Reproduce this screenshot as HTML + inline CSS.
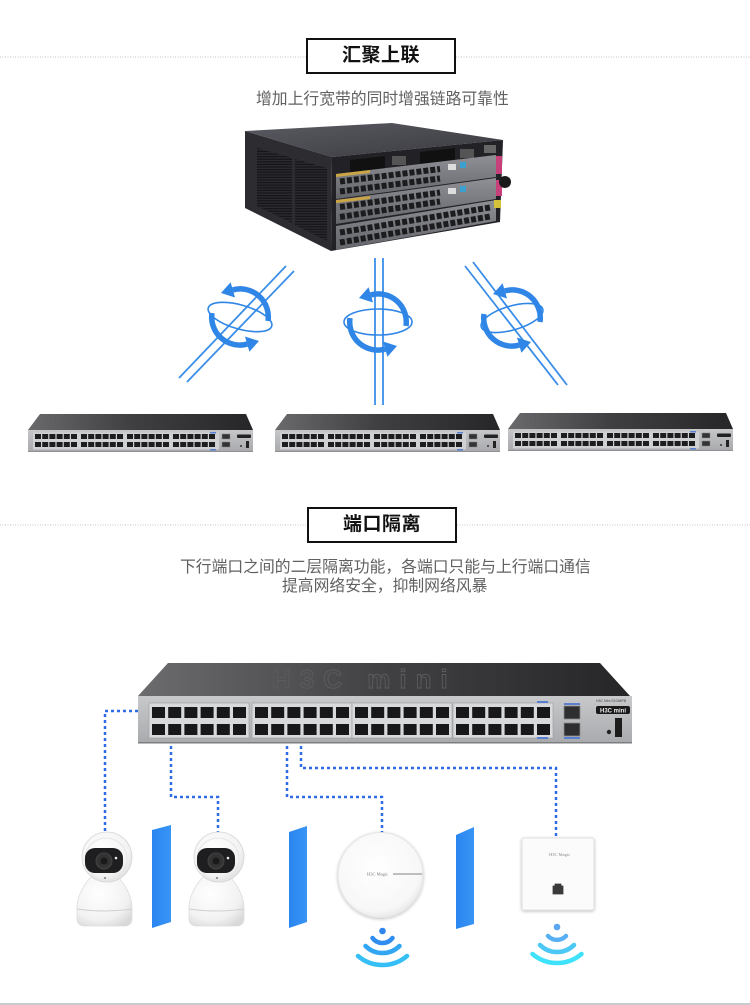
<!DOCTYPE html>
<html><head><meta charset="utf-8">
<style>
html,body{margin:0;padding:0;background:#fff;}
#wrap{position:relative;width:750px;height:1005px;overflow:hidden;background:#fff;font-family:"Liberation Sans","Noto Sans CJK SC",sans-serif;}
svg{position:absolute;left:0;top:0;}
.box{position:absolute;box-sizing:border-box;width:150px;height:36px;border:2px solid #111;background:#fff;text-align:center;font-size:19px;font-weight:700;color:#111;line-height:31px;letter-spacing:0.5px;}
.sub{position:absolute;white-space:nowrap;font-size:15.8px;color:#606060;line-height:18px;}
</style></head><body>
<div id="wrap">
<svg width="750" height="1005" viewBox="0 0 750 1005" xmlns="http://www.w3.org/2000/svg">
<defs>
  <linearGradient id="swTop" x1="0" y1="0" x2="1" y2="0">
    <stop offset="0" stop-color="#6a6a6d"/><stop offset="0.45" stop-color="#404043"/><stop offset="1" stop-color="#262628"/>
  </linearGradient>
  <linearGradient id="swFront" x1="0" y1="0" x2="0" y2="1">
    <stop offset="0" stop-color="#c6c7c9"/><stop offset="1" stop-color="#a8a9ac"/>
  </linearGradient>
  <linearGradient id="chTop" x1="0" y1="0" x2="1" y2="1">
    <stop offset="0" stop-color="#5a5a62"/><stop offset="1" stop-color="#3a3a40"/>
  </linearGradient>
  <linearGradient id="card" x1="0" y1="0" x2="0" y2="1">
    <stop offset="0" stop-color="#8e9096"/><stop offset="1" stop-color="#63656b"/>
  </linearGradient>
  <pattern id="vent" width="4" height="2.6" patternUnits="userSpaceOnUse">
    <rect width="4" height="2.6" fill="#2a2a2f"/><rect width="4" height="1.2" fill="#151518"/>
  </pattern>
  <radialGradient id="camG" cx="0.4" cy="0.35" r="0.75">
    <stop offset="0" stop-color="#ffffff"/><stop offset="0.7" stop-color="#f2f2f2"/><stop offset="1" stop-color="#d9d9d9"/>
  </radialGradient>
  <radialGradient id="apG" cx="0.45" cy="0.4" r="0.65">
    <stop offset="0" stop-color="#ffffff"/><stop offset="0.8" stop-color="#f7f7f7"/><stop offset="1" stop-color="#e2e2e2"/>
  </radialGradient>
  <linearGradient id="panel" x1="0" y1="0" x2="1" y2="0">
    <stop offset="0" stop-color="#2a86f0"/><stop offset="1" stop-color="#3894f4"/>
  </linearGradient>
  <filter id="sh" x="-20%" y="-20%" width="140%" height="140%">
    <feGaussianBlur in="SourceAlpha" stdDeviation="1.5"/>
    <feOffset dx="0" dy="1" result="b"/>
    <feComponentTransfer><feFuncA type="linear" slope="0.25"/></feComponentTransfer>
    <feMerge><feMergeNode/><feMergeNode in="SourceGraphic"/></feMerge>
  </filter>

  <!-- small switch -->
  <g id="sw">
    <polygon points="12,0 218,0 225,16 0,16" fill="url(#swTop)"/>
    <rect x="0" y="16" width="225" height="22" fill="url(#swFront)"/>
    <rect x="0" y="37.2" width="225" height="0.8" fill="#8a8a8d"/>
    <rect x="5" y="18.5" width="186" height="17" fill="#cfd0d2"/>
    <g stroke="#1d1d1f" stroke-width="5" stroke-dasharray="6 1.2">
      <line x1="7" y1="22.5" x2="49" y2="22.5"/><line x1="7" y1="30.5" x2="49" y2="30.5"/>
      <line x1="53" y1="22.5" x2="95" y2="22.5"/><line x1="53" y1="30.5" x2="95" y2="30.5"/>
      <line x1="99" y1="22.5" x2="141" y2="22.5"/><line x1="99" y1="30.5" x2="141" y2="30.5"/>
      <line x1="145" y1="22.5" x2="187" y2="22.5"/><line x1="145" y1="30.5" x2="187" y2="30.5"/>
    </g>
    <rect x="182" y="18" width="6" height="1.5" fill="#5b7fd0"/>
    <rect x="182" y="35" width="6" height="1.5" fill="#5b7fd0"/>
    <rect x="194" y="20" width="8" height="5" fill="#333" stroke="#888" stroke-width="0.5"/>
    <rect x="194" y="28" width="8" height="5" fill="#333" stroke="#888" stroke-width="0.5"/>
    <rect x="209" y="20.5" width="14" height="3.5" rx="1" fill="#222"/>
    <rect x="218" y="27" width="3" height="7" fill="#222"/>
    <circle cx="213" cy="32" r="1" fill="#333"/>
  </g>

  <!-- rotation icon -->
  <g id="rotArrows" fill="#2f86e6">
    <path d="M28 4 A28 28 0 0 0 -7.25 -27.05" fill="none" stroke="#2f86e6" stroke-width="5.5"/>
    <polygon points="-5,-19.5 -9.4,-34.8 -19,-24"/>
    <path d="M-28 -4 A28 28 0 0 0 7.25 27.05" fill="none" stroke="#2f86e6" stroke-width="5.5"/>
    <polygon points="9.4,34.8 5,19.5 19,24"/>
  </g>
</defs>

<!-- section header dotted lines -->
<g stroke="#c4c4c4" stroke-width="1" stroke-dasharray="1 1.5">
  <line x1="0" y1="57" x2="306" y2="57"/>
  <line x1="456" y1="57" x2="750" y2="57"/>
  <line x1="0" y1="525" x2="307" y2="525"/>
  <line x1="457" y1="525" x2="750" y2="525"/>
</g>

<!-- chassis -->
<g>
  <polygon points="245,131 392,123 503,140 332,157" fill="url(#chTop)"/>
  <polygon points="245,131 332,157 331,251 245,208" fill="#2c2c31"/>
  <polygon points="257,148 292,158 292,223 257,206" fill="url(#vent)"/>
  <polygon points="295,159 327,168 327,241 295,225" fill="url(#vent)"/>
  <polygon points="332,157 503,140 500,222 331,251" fill="#222226"/>
  <!-- psu -->
  <polygon points="350,160 385,156 385,170 350,174" fill="#111"/>
  <polygon points="420,152 455,148 455,162 420,166" fill="#111"/>
  <rect x="392" y="156" width="14" height="9" fill="#555"/>
  <rect x="460" y="149" width="14" height="9" fill="#555"/>
  <rect x="484" y="145" width="12" height="8" fill="#666"/>
  <!-- cards -->
  <polygon points="336,174 496,155 496,177 336,199" fill="url(#card)"/>
  <polygon points="336,200 496,178 496,199 336,224" fill="url(#card)"/>
  <polygon points="336,226 496,200 496,221 336,250" fill="url(#card)"/>
  <polygon points="336,174 370,170 370,173 336,177" fill="#c9a545"/>
  <polygon points="336,200 370,196 370,199 336,203" fill="#c9a545"/>
  <g stroke="#1c1c1e" stroke-width="6" stroke-dasharray="5 2">
    <line x1="340" y1="181.5" x2="440" y2="169"/>
    <line x1="340" y1="191.5" x2="440" y2="178.5"/>
    <line x1="340" y1="207" x2="440" y2="192.5"/>
    <line x1="340" y1="217" x2="440" y2="201.5"/>
    <line x1="340" y1="232.5" x2="490" y2="207.5"/>
    <line x1="340" y1="242.5" x2="490" y2="216.5"/>
  </g>
  <rect x="448" y="164" width="8" height="6" fill="#ddd"/>
  <rect x="460" y="162" width="6" height="6" fill="#3aa0d0"/>
  <rect x="448" y="188" width="8" height="6" fill="#ddd"/>
  <rect x="460" y="186" width="6" height="6" fill="#3aa0d0"/>
  <rect x="496" y="156" width="6" height="18" fill="#c8407a"/>
  <rect x="496" y="180" width="6" height="16" fill="#c8407a"/>
  <rect x="494" y="200" width="7" height="8" fill="#d4c23a"/>
  <circle cx="505" cy="182" r="6" fill="#1a1a1a"/>
</g>

<!-- rotation icons and lines -->
<g stroke="#3b8ee8" stroke-width="1.8" fill="none">
  <line x1="179" y1="378" x2="286" y2="266"/>
  <line x1="187" y1="382" x2="294" y2="271"/>
  <line x1="375" y1="258" x2="375" y2="405"/>
  <line x1="383" y1="258" x2="383" y2="405"/>
  <line x1="465" y1="266" x2="558" y2="385"/>
  <line x1="473" y1="262" x2="567" y2="385"/>
</g>
<g transform="translate(240,317)">
  <ellipse cx="0" cy="0" rx="33" ry="12" fill="none" stroke="#2f86e6" stroke-width="1.6" transform="rotate(16)"/>
  <use href="#rotArrows"/>
</g>
<g transform="translate(378,322)">
  <ellipse cx="0" cy="0" rx="34" ry="13" fill="none" stroke="#2f86e6" stroke-width="1.6"/>
  <use href="#rotArrows"/>
</g>
<g transform="translate(512,318)">
  <ellipse cx="0" cy="0" rx="32" ry="12" fill="none" stroke="#2f86e6" stroke-width="1.6" transform="rotate(-16)"/>
  <use href="#rotArrows"/>
</g>

<!-- small switches -->
<use href="#sw" transform="translate(28,414)"/>
<use href="#sw" transform="translate(275,414)"/>
<use href="#sw" transform="translate(508,413)"/>

<!-- big switch -->
<g>
  <defs>
    <linearGradient id="bTop" x1="0" y1="0" x2="1" y2="0">
      <stop offset="0" stop-color="#6c6c6f"/><stop offset="0.5" stop-color="#414144"/><stop offset="1" stop-color="#262628"/>
    </linearGradient>
    <linearGradient id="bFront" x1="0" y1="0" x2="0" y2="1">
      <stop offset="0" stop-color="#c8c9cb"/><stop offset="1" stop-color="#a9aaad"/>
    </linearGradient>
  </defs>
  <polygon points="168,663 600,663 630,696 138,696" fill="url(#bTop)"/>
  <text x="272" y="688" font-family="Liberation Sans, sans-serif" font-size="26" font-weight="700" fill="none" stroke="#5c5c60" stroke-width="0.9" letter-spacing="9">H3C mini</text>
  <rect x="138" y="696" width="494" height="47" fill="url(#bFront)"/>
  <rect x="138" y="742" width="494" height="1.5" fill="#7d7d80"/>
  <g fill="#d8d9db" stroke="#9a9b9e" stroke-width="0.6">
    <rect x="149" y="703" width="100" height="35"/>
    <rect x="252" y="703" width="100" height="35"/>
    <rect x="352" y="703" width="100" height="35"/>
    <rect x="453" y="703" width="100" height="35"/>
  </g>
  <g stroke="#18181a" stroke-width="11" stroke-dasharray="13 3.2">
    <line x1="152" y1="712.5" x2="246" y2="712.5"/><line x1="152" y1="729.5" x2="246" y2="729.5"/>
    <line x1="255" y1="712.5" x2="349" y2="712.5"/><line x1="255" y1="729.5" x2="349" y2="729.5"/>
    <line x1="355" y1="712.5" x2="449" y2="712.5"/><line x1="355" y1="729.5" x2="449" y2="729.5"/>
    <line x1="456" y1="712.5" x2="550" y2="712.5"/><line x1="456" y1="729.5" x2="550" y2="729.5"/>
  </g>
  <rect x="537" y="701" width="11" height="2" fill="#5b7fd0"/>
  <rect x="537" y="737" width="11" height="2" fill="#5b7fd0"/>
  <rect x="564" y="703" width="16" height="2" fill="#5b7fd0"/>
  <rect x="564" y="737" width="16" height="2" fill="#5b7fd0"/>
  <rect x="564" y="706" width="16" height="13" fill="#2e2e30" stroke="#8a8a8d" stroke-width="0.8"/>
  <rect x="564" y="723" width="16" height="13" fill="#2e2e30" stroke="#8a8a8d" stroke-width="0.8"/>
  <text x="596" y="702" font-family="Liberation Sans, sans-serif" font-size="3.5" fill="#444">H3C Mini S1048PB</text>
  <rect x="596" y="706" width="34" height="8" rx="2" fill="#1a1a1a"/>
  <text x="600" y="712.3" font-family="Liberation Sans, sans-serif" font-size="6" font-weight="700" fill="#eee">H3C mini</text>
  <rect x="615" y="718" width="7" height="19" fill="#1c1c1c"/>
  <circle cx="609" cy="732" r="2.2" fill="#222"/>
</g>

<!-- dotted connectors -->
<g stroke="#2e6be6" stroke-width="2.5" stroke-dasharray="3 3" fill="none">
  <polyline points="138,711 105,711 105,832"/>
  <polyline points="171,746 171,797 218,797 218,832"/>
  <polyline points="287,746 287,797 382,797 382,833"/>
  <polyline points="301,746 301,768 556,768 556,838"/>
</g>

<!-- cameras -->
<g id="cam1">
  <path d="M92,876 C84,884 77,896 77,908 L77,918 Q77,926 85,926 L124,926 Q132,926 132,918 L132,908 C132,896 125,884 117,876 Z" fill="url(#camG)" stroke="#dcdcdc" stroke-width="0.8"/>
  <path d="M77,909 Q104.5,913 132,909" fill="none" stroke="#d0d0d0" stroke-width="1"/>
  <circle cx="107" cy="857" r="25" fill="url(#camG)" stroke="#d6d6d6" stroke-width="0.8"/>
  <circle cx="106" cy="859" r="21" fill="none" stroke="#e6e6e6" stroke-width="1"/>
  <rect x="85" y="848" width="38" height="25" rx="10" fill="#1e1e20"/>
  <circle cx="104" cy="861" r="8" fill="#333" stroke="#444" stroke-width="1"/>
  <circle cx="104" cy="861" r="3.5" fill="#1a1a1a"/>
  <circle cx="116" cy="858" r="1.3" fill="#eee"/>
  <circle cx="105" cy="878" r="1" fill="#777"/>
</g>
<use href="#cam1" transform="translate(112,0)"/>

<!-- blue panels -->
<polygon points="152,830 171,825 171,922 152,928" fill="url(#panel)"/>
<polygon points="289,832 307,826 307,922 289,928" fill="url(#panel)"/>
<polygon points="456,835 474,827 474,924 456,929" fill="url(#panel)"/>

<!-- round AP -->
<circle cx="380.5" cy="875" r="42.5" fill="url(#apG)" stroke="#e3e3e3" stroke-width="1" filter="url(#sh)"/>
<text x="367" y="875.5" font-family="Liberation Serif, serif" font-size="4.5" fill="#777">H3C Magic</text>
<line x1="393" y1="874" x2="422" y2="874" stroke="#9a9a9a" stroke-width="1.2"/>

<!-- wall AP -->
<rect x="522" y="838" width="72" height="72" rx="2" fill="#fbfbfb" stroke="#e2e2e2" stroke-width="1" filter="url(#sh)"/>
<text x="549" y="856" font-family="Liberation Serif, serif" font-size="4.5" fill="#888">H3C Magic</text>
<path d="M553,886 L563,886 L563,894 L553,894 Z M555,886 L555,884 L561,884 L561,886" fill="#3a3a3a" stroke="#3a3a3a" stroke-width="0.8"/>

<!-- wifi 1 -->
<circle cx="382.5" cy="931" r="3.3" fill="#2f86ee"/>
<g fill="none" stroke-width="4.5" stroke-linecap="round">
  <path d="M372.5,938 A12.5,12.5 0 0 0 392.5,938" stroke="#2f8cf0"/>
  <path d="M365.5,946 A24,24 0 0 0 399.5,946" stroke="#32a6f3"/>
  <path d="M358,956 A37.8,37.8 0 0 0 407,956" stroke="#35bff6"/>
</g>
<!-- wifi 2 -->
<circle cx="557" cy="927" r="3.3" fill="#5aa6f2"/>
<g fill="none" stroke-width="4.5" stroke-linecap="round">
  <path d="M548,936 A12.5,12.5 0 0 0 566,936" stroke="#58b0f4"/>
  <path d="M540,945 A24,24 0 0 0 574,945" stroke="#4cc8f7"/>
  <path d="M532.5,954 A37.8,37.8 0 0 0 581.5,954" stroke="#3fe2fb"/>
</g>

<!-- bottom line -->
<rect x="0" y="1003" width="750" height="2" fill="#c9c9d0"/>
</svg>

<div class="box" style="left:306px;top:38px;">汇聚上联</div>
<div class="sub" style="left:256px;top:91px;">增加上行宽带的同时增强链路可靠性</div>

<div class="box" style="left:307px;top:507px;">端口隔离</div>
<div class="sub" style="left:180px;top:559px;">下行端口之间的二层隔离功能，各端口只能与上行端口通信</div>
<div class="sub" style="left:282px;top:578px;">提高网络安全，抑制网络风暴</div>
</div>
</body></html>
